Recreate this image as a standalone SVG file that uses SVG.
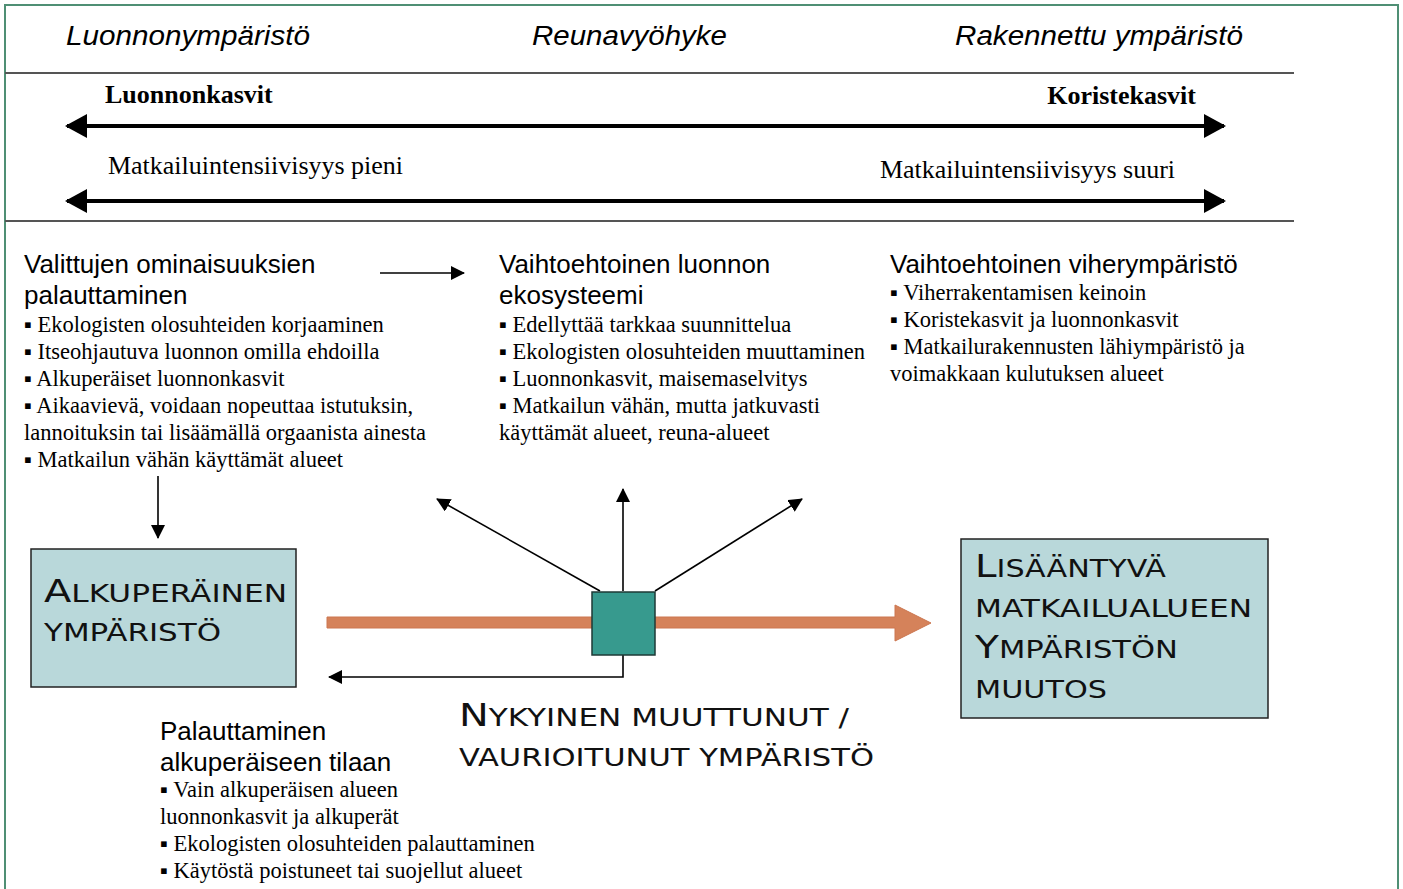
<svg xmlns="http://www.w3.org/2000/svg" width="1403" height="889" viewBox="0 0 1403 889">
<style>
.hdr{font-family:"Liberation Sans",Arial,sans-serif;font-style:italic;font-size:27px;fill:#000}
.tb{font-family:"Liberation Serif","Times New Roman",serif;font-size:25px;fill:#000}
.tbb{font-family:"Liberation Serif","Times New Roman",serif;font-size:26px;font-weight:bold;fill:#000}
.h{font-family:"Liberation Sans",Arial,sans-serif;font-size:26px;fill:#000}
.b{font-family:"Liberation Serif","Times New Roman",serif;font-size:22.5px;fill:#000}
.sc{font-family:"DejaVu Sans","Liberation Sans",sans-serif;font-size:25px;fill:#111}
.cap{font-size:32px}
.thick{stroke:#000;stroke-width:4;fill:none}
.thin{stroke:#000;stroke-width:1.6;fill:none}
.box{fill:#b9d8da;stroke:#222;stroke-width:1.5}
</style>
<defs>
<marker id="bigArrow" viewBox="0 0 22 24" markerWidth="22" markerHeight="24" refX="20" refY="12" orient="auto-start-reverse" markerUnits="userSpaceOnUse">
<path d="M0,0 L22,12 L0,24 z" fill="#000"/>
</marker>
<marker id="smallArrow" viewBox="0 0 14 14" markerWidth="14" markerHeight="14" refX="13" refY="7" orient="auto" markerUnits="userSpaceOnUse">
<path d="M0,0 L14,7 L0,14 z" fill="#000"/>
</marker>
</defs>
<rect x="0" y="0" width="1403" height="889" fill="#fff"/>
<rect x="5" y="5" width="1393" height="900" fill="none" stroke="#4f8f74" stroke-width="2"/>
<g id="header">
<line x1="5" y1="73" x2="1294" y2="73" stroke="#555" stroke-width="2"/>
<line x1="5" y1="221" x2="1294" y2="221" stroke="#555" stroke-width="2"/>
<text class="hdr" x="66" y="45" textLength="244" lengthAdjust="spacingAndGlyphs">Luonnonympäristö</text>
<text class="hdr" x="532" y="45" textLength="195" lengthAdjust="spacingAndGlyphs">Reunavyöhyke</text>
<text class="hdr" x="955" y="45" textLength="288" lengthAdjust="spacingAndGlyphs">Rakennettu ympäristö</text>
<text class="tbb" x="105" y="103">Luonnonkasvit</text>
<text class="tbb" x="1196" y="104" text-anchor="end">Koristekasvit</text>
<text class="tb" x="108" y="174" textLength="295" lengthAdjust="spacingAndGlyphs">Matkailuintensiivisyys pieni</text>
<text class="tb" x="880" y="178" textLength="295" lengthAdjust="spacingAndGlyphs">Matkailuintensiivisyys suuri</text>
</g>
<g id="col-left">
<text class="h" x="24" y="273">Valittujen ominaisuuksien</text>
<text class="h" x="24" y="304">palauttaminen</text>
<text class="b" x="24" y="332">▪ Ekologisten olosuhteiden korjaaminen</text>
<text class="b" x="24" y="359">▪ Itseohjautuva luonnon omilla ehdoilla</text>
<text class="b" x="24" y="386">▪ Alkuperäiset luonnonkasvit</text>
<text class="b" x="24" y="413">▪ Aikaavievä, voidaan nopeuttaa istutuksin,</text>
<text class="b" x="24" y="440">lannoituksin tai lisäämällä orgaanista ainesta</text>
<text class="b" x="24" y="467">▪ Matkailun vähän käyttämät alueet</text>
</g>
<g id="col-mid">
<text class="h" x="499" y="273">Vaihtoehtoinen luonnon</text>
<text class="h" x="499" y="304">ekosysteemi</text>
<text class="b" x="499" y="332">▪ Edellyttää tarkkaa suunnittelua</text>
<text class="b" x="499" y="359">▪ Ekologisten olosuhteiden muuttaminen</text>
<text class="b" x="499" y="386">▪ Luonnonkasvit, maisemaselvitys</text>
<text class="b" x="499" y="413">▪ Matkailun vähän, mutta jatkuvasti</text>
<text class="b" x="499" y="440">käyttämät alueet, reuna-alueet</text>
</g>
<g id="col-right">
<text class="h" x="890" y="273">Vaihtoehtoinen viherympäristö</text>
<text class="b" x="890" y="300">▪ Viherrakentamisen keinoin</text>
<text class="b" x="890" y="327">▪ Koristekasvit ja luonnonkasvit</text>
<text class="b" x="890" y="354">▪ Matkailurakennusten lähiympäristö ja</text>
<text class="b" x="890" y="381">voimakkaan kulutuksen alueet</text>
</g>
<g id="connectors">
<line class="thick" x1="67" y1="126" x2="1224" y2="126" marker-start="url(#bigArrow)" marker-end="url(#bigArrow)"/>
<line class="thick" x1="67" y1="201" x2="1224" y2="201" marker-start="url(#bigArrow)" marker-end="url(#bigArrow)"/>
<line class="thin" x1="380" y1="273" x2="464" y2="273" marker-end="url(#smallArrow)"/>
<line class="thin" x1="158" y1="476" x2="158" y2="538" marker-end="url(#smallArrow)"/>
<path d="M327,617 H895 V605 L931,623 L895,641 V628 H327 Z" fill="#d5825a" stroke="#cc7650" stroke-width="1"/>
<line class="thin" x1="600" y1="591" x2="437" y2="499" marker-end="url(#smallArrow)"/>
<line class="thin" x1="623" y1="591" x2="623" y2="489" marker-end="url(#smallArrow)"/>
<line class="thin" x1="655" y1="591" x2="802" y2="499" marker-end="url(#smallArrow)"/>
<polyline class="thin" points="623,655 623,677 329,677" marker-end="url(#smallArrow)"/>
</g>
<g id="node-current">
<rect x="592" y="592" width="63" height="63" fill="#379a8e" stroke="#1e3a36" stroke-width="1.5"/>
<text class="sc" x="459" y="726" textLength="390" lengthAdjust="spacingAndGlyphs"><tspan class="cap">N</tspan>YKYINEN MUUTTUNUT /</text>
<text class="sc" x="459" y="766" textLength="415" lengthAdjust="spacingAndGlyphs">VAURIOITUNUT YMPÄRISTÖ</text>
</g>
<g id="node-original">
<rect class="box" x="31" y="549" width="265" height="138"/>
<text class="sc" x="44" y="602" textLength="243" lengthAdjust="spacingAndGlyphs"><tspan class="cap">A</tspan>LKUPERÄINEN</text>
<text class="sc" x="44" y="641" textLength="177" lengthAdjust="spacingAndGlyphs">YMPÄRISTÖ</text>
</g>
<g id="node-change">
<rect class="box" x="961" y="539" width="307" height="179"/>
<text class="sc" x="975" y="577" textLength="191" lengthAdjust="spacingAndGlyphs"><tspan class="cap">L</tspan>ISÄÄNTYVÄ</text>
<text class="sc" x="975" y="617" textLength="277" lengthAdjust="spacingAndGlyphs">MATKAILUALUEEN</text>
<text class="sc" x="975" y="658" textLength="203" lengthAdjust="spacingAndGlyphs"><tspan class="cap">Y</tspan>MPÄRISTÖN</text>
<text class="sc" x="975" y="698" textLength="132" lengthAdjust="spacingAndGlyphs">MUUTOS</text>
</g>
<g id="col-bottom">
<text class="h" x="160" y="740">Palauttaminen</text>
<text class="h" x="160" y="771">alkuperäiseen tilaan</text>
<text class="b" x="160" y="797">▪ Vain alkuperäisen alueen</text>
<text class="b" x="160" y="824">luonnonkasvit ja alkuperät</text>
<text class="b" x="160" y="851">▪ Ekologisten olosuhteiden palauttaminen</text>
<text class="b" x="160" y="878">▪ Käytöstä poistuneet tai suojellut alueet</text>
</g>
</svg>
